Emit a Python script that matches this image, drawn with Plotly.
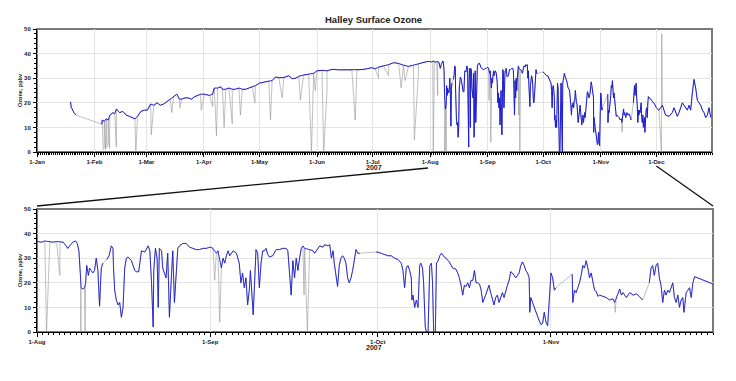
import pandas as pd
import plotly.graph_objects as go

# ---------------- data (day of year 2007, 0 = 1-Jan 00:00) ----------------
obs_day = [
    18.1, 18.5, 19.0, 19.9, 21.1, 28.0,
    34.9, 35.2, 36.3, 37.3, 38.4, 39.3, 41.0, 41.9, 42.8, 43.7, 44.5, 46.3, 48.1, 49.8,
    51.6, 52.8, 54.2, 56.0, 57.9, 59.5, 61.3, 63.0, 64.8, 66.5, 68.3, 70.1, 71.8, 73.6,
    75.4, 76.8, 78.0, 79.8, 81.5, 83.3, 85.0, 86.8, 88.2, 90.3, 93.0, 94.7, 95.6, 97.4,
    99.1, 100.0, 101.8, 103.5, 105.3, 107.0,
    108.9, 110.7, 112.5, 114.3, 116.1, 117.8, 120.0, 122.3, 125.0, 126.8, 128.6, 130.4,
    133.1, 135.8, 137.6, 139.4, 141.2, 143.8, 146.5, 149.2, 151.0, 153.7, 156.4, 159.1,
    162.7, 166.2, 169.8, 172.5, 175.2, 177.9, 180.6, 182.4, 184.2, 186.8, 189.6, 192.3,
    195.0, 197.6, 200.3, 203.0, 205.7, 208.4, 210.5,
    212.0, 212.8, 213.4, 214.3, 214.9, 215.5, 216.1, 216.7, 217.2, 217.5, 218.0, 218.4,
    218.9, 219.2, 219.5, 219.8, 219.9, 220.2, 220.5, 220.7, 220.9, 221.2, 221.4, 221.7,
    222.0, 222.3, 222.6, 222.9, 223.2, 223.5, 223.8, 224.15,
    224.5, 224.9, 225.3, 225.6, 225.7, 225.9, 226.2, 226.5, 226.8, 227.1, 227.4, 227.7,
    228.0, 228.3, 228.9, 229.5, 229.8, 230.2, 230.7, 231.3, 231.9, 232.2, 232.5, 232.8,
    232.9, 233.2, 233.5, 233.7, 233.9, 234.3, 234.5, 234.8, 235.1, 235.4, 235.7, 236.0,
    236.3, 236.6, 236.9, 237.2, 237.5, 238.1, 238.7, 239.3, 239.9, 240.5, 241.1, 241.7,
    242.3, 243.0, 243.5, 244.1, 244.4, 245.0, 245.3, 245.6, 245.9, 246.2, 246.5, 247.1,
    247.7, 248.0,
    248.2, 248.5, 248.8, 249.1, 249.4, 249.7, 250.0, 250.2, 250.7, 251.2, 251.5, 251.8,
    252.1, 252.4, 252.7, 253.0, 253.3, 253.6, 254.2, 254.8, 255.4, 256.0, 256.6, 256.9,
    257.2, 257.5, 257.8, 258.1, 258.4, 258.7, 259.0, 259.3, 259.6, 259.9, 260.8, 261.4,
    261.7, 262.0, 262.3, 262.6, 263.2, 263.5, 264.1, 264.4, 264.7, 265.0, 265.2, 265.5,
    265.8, 266.1, 266.4, 266.7, 267.0, 267.3, 267.6, 267.9, 268.2, 268.5, 268.8, 269.1,
    269.4, 269.8, 271.0,
    272.7, 273.0, 273.6, 274.2, 274.8, 275.4, 276.0, 276.6, 277.2, 277.5, 277.8, 278.1,
    278.4, 278.7, 279.0, 279.1, 279.3, 279.6, 279.9, 280.2, 280.5, 280.7, 281.0, 281.2,
    281.5, 281.7, 282.0, 282.3, 282.6, 282.8, 283.0, 283.3, 283.5, 283.8, 284.1, 284.4,
    284.7, 285.2, 285.8, 286.4, 287.0, 287.3, 287.6, 287.9, 288.2, 288.5, 288.8, 289.1,
    289.4, 289.7, 290.0, 290.3, 290.6, 290.9, 291.2, 291.5, 291.8,
    292.3, 292.9, 293.2, 293.5, 293.8, 294.1, 294.4, 294.7, 295.0, 295.3, 295.6, 295.9,
    296.2, 296.5, 296.8, 297.1, 297.4, 297.7, 298.0, 298.3, 298.6, 298.9, 299.2, 299.5,
    299.8, 300.1, 300.2, 300.4, 300.7, 301.0, 301.3, 301.6, 301.9, 302.2, 302.5, 302.8,
    303.1, 303.4, 303.7, 304.0, 304.3, 304.6, 304.9, 306.0,
    307.8, 307.9, 308.2, 308.5, 308.8, 309.1, 309.4, 309.7, 310.0, 310.3, 310.6, 310.9,
    311.2, 311.5, 311.8, 312.1, 312.4, 312.7, 313.3, 313.9, 314.5, 315.1, 315.4, 315.7,
    316.3, 316.6, 316.9, 317.5, 318.1, 318.7, 319.3, 319.8, 320.4, 321.0,
    321.6, 321.9, 322.2, 322.5, 322.8, 323.1, 323.4, 323.7, 324.0, 324.3, 324.6, 324.9,
    325.2, 325.5, 325.8, 326.1, 326.4, 326.7, 327.0, 327.3, 327.6, 327.8, 328.0, 328.2,
    328.5, 328.8, 329.1, 329.4, 329.7, 330.3, 330.9, 331.5, 332.1, 332.7, 333.0,
    334.0, 335.4, 337.2, 339.0, 340.8, 342.6, 343.5, 344.4, 345.3, 346.2, 347.1, 348.0,
    348.9, 349.8, 350.7, 351.6, 352.5, 353.4, 354.3, 355.2, 356.1, 357.0, 357.9, 358.8,
    359.7, 360.6, 361.5, 362.4, 363.3,
]
ozone_ppbv = [
    20.4, 18, 17.5, 16, 15, None,
    11.3, 13, 12.5, 13.5, 13, 15, 16, 15.5, 17.5, 16.5, 16, 16.5, 15, 14.5,
    14, 13.5, 14.5, 16.5, 17, 17, 19.5, 19, 20, 19, 19.5, 20.5, 21.5, 22.5,
    23.5, 21.5, 21.5, 22, 22, 21.5, 22.5, 23, 23.5, 23.5, 23, 23.5, 26, 26,
    26.5, 25.5, 25.5, 26, 25.5, 25.5,
    26, 25.5, 25.5, 26, 26.5, 27, 28, 28.5, 28.8, 29, 30.5, 30.2,
    30.3, 31, 29.8, 30, 30.8, 31.3, 31.5, 32, 33, 33.2, 33, 33.6,
    33.4, 33.4, 33.2, 33.3, 33.5, 33.8, 34.3, 33.8, 34.5, 35, 35.5, 36.3,
    36, 35.3, 34.8, 35.3, 35.8, 36.5, 36.8,
    36.8, 36.5, 37, 36.8, 36.5, 36.8, 36.8, 36.5, 35, 34, 35.5, 36.5,
    37, 36, 33, 23, 18, 17.5, 18, 20, 27, 23, 26, 25,
    24, 25, 30, 25, 10.5, 26, 28, None,
    29.5, 31, 35, 34, 26, 17, 13, 11, 12, 6, 10, 26,
    30, 30.5, 29, 25, 24.5, 24.5, 33, 32.5, 35, 33, 20, 2,
    25, 34, 30, 10, 34, 33, 26, 24, 22, 32, 6, 20,
    33, 12, 25, 34, 35, 36, 36, 34.5, 34, 33.5, 33.5, 34,
    34, 34.5, 34, 32, 33, 26, 30, 28, 31, 33, 31, 33,
    32, 29,
    28, 20, 24, 18, 22, 11, 17, 25, 7, 33.5, 32, 18,
    28, 33, 33, 34, 31.5, 30.5, 31, 33.5, 33.5, 34, 34, 33,
    25, 15, 29, 22, 30, 25, 30, 34, 35, 34, 33.5, 33,
    32, 33, 34, 35, 34.5, 35.5, 35, 35.5, 30, 33, 28, 24,
    18.5, 27, 30, 31, 30, 28, 22, 20, 22, 25, 30, 33.5,
    32, 32, None,
    32.5, 32.5, 32, 31.5, 31, 31, 30, 29.5, 28, 25, 18, 26,
    27, 25, 22, 13, 15, 10, 13, 10, 27, 28, 26, 20,
    2, 0, 0, 27, 28, 20, 0, 0, 28, 29, 31, 32,
    31, 30, 28.5, 26, 25.5, 24, 22, 19, 15, 19, 18.5, 20,
    18, 21, 21, 25, 20, 20, 19.5, 17, 12,
    15, 19, 16, 13, 11, 14, 15, 12, 14, 16, 14, 17,
    19, 21, 24.5, 24, 23, 22, 23, 24, 27, 28.5, 27, 25,
    24, 22, 8, 14, 12, 10, 8, 6, 4.5, 3, 3.5, 8,
    4, 2.5, 15, 24, 22, 17, 18, None,
    23.5, 12, 17, 16, 18, 20, 23, 27, 26, 29, 26, 22,
    24, 20, 17, 16.5, 14.5, 15, 14.5, 14, 13, 13.5, 12, 14,
    17.5, 15, 16, 14, 16, 15, 15.5, 14.5, 13, None,
    20, 26, 27, 23, 27, 28, 22, 19, 12, 17, 15, 17,
    16, 18, 20, 14, 12, 15, 10, 13, 14, 8, 12, 16,
    17, 18, 14, 20, 22.5, 22, 21.5, 21, 20.5, 20, 19.5,
    18, 17, 19, 15, 14.5, 16, 18, 16, 14.5, 16, 18, 20,
    19, 18, 17, 19, 17, 24, 29.5, 26, 21, 20, 19, 17,
    16, 14, 15, 18, 14,
]

# short instrument drop-outs drawn as grey spikes
spike_day = [35.7, 36.3, 37.0, 37.7, 38.4, 39.1, 42.8, 53.3, 61.6, 72.7, 77.1, 88.6,
             94.7, 96.8, 100.9, 105.3, 109.7, 117.5, 125.9, 132.2, 142.0, 148.0, 150.1,
             154.6, 156.4, 171.6, 184.2, 189.6, 196.4, 198.5, 203.5, 205.7,
             213.7, 216.1, 219.85, 220.6, 243.8, 244.7, 259.8, 260.4, 315.5,
             336.7, 336.9]
spike_ppbv = [1, 1.5, 1, 2, 3, 1.5, 2, 0, 7, 16, 18, 17,
              18.5, 6.5, 10, 11.5, 15, 20, 13, 22, 21, 0, 25,
              0, 25, 13, 30, 31, 26, 29, 5, 32,
              0, 23, 0, 0, 21, 4, 15, 0, 8,
              0, 48]

year_label = "2007"
title_text = "Halley Surface Ozone"
y_title = "Ozone, ppbv"

# ---------------- build ----------------
t0 = pd.Timestamp("2007-01-01")
def to_time(days):
    return [t0 + pd.Timedelta(days=d) for d in days]

blue_x = to_time(obs_day)
valid = [(d, v) for d, v in zip(obs_day, ozone_ppbv) if v is not None]
merged = sorted(valid + list(zip(spike_day, spike_ppbv)))
gray_x = to_time([d for d, _ in merged])
gray_y = [v for _, v in merged]

# the page body has an 8px margin, so the figure is drawn inside it
OFF = 8
W, H = 736 - 2 * OFF, 381 - 2 * OFF
px = lambda x: (x - OFF) / W
py = lambda y: 1 - (y - OFF) / H

top_dom_x = [px(37), px(712)]
top_dom_y = [py(152), py(29)]
bot_dom_x = [px(37), px(713)]
bot_dom_y = [py(332), py(209)]

top_range = ["2007-01-01", "2007-12-31"]
bot_range = ["2007-08-01", "2007-11-30"]

blue = "rgb(28,28,214)"
gray = "rgb(150,150,150)"

fig = go.Figure()
for xa, ya, wb in (("x", "y", 1.0), ("x2", "y2", 0.9)):
    fig.add_trace(go.Scatter(x=gray_x, y=gray_y, mode="lines", xaxis=xa, yaxis=ya,
                             line=dict(color=gray, width=0.6), hoverinfo="skip",
                             showlegend=False))
    fig.add_trace(go.Scatter(x=blue_x, y=ozone_ppbv, mode="lines", xaxis=xa, yaxis=ya,
                             connectgaps=False, line=dict(color=blue, width=wb),
                             showlegend=False))

tickfont = dict(family="Arial, Liberation Sans, sans-serif", size=6, color="#222",
                weight="bold")

def xax(dom, rng, anchor):
    return dict(domain=dom, anchor=anchor, type="date", range=rng, dtick="M1",
                tick0="2007-01-01", tickformat="%-d-%b", ticks="outside", ticklen=4,
                tickcolor="#000", tickwidth=1, showline=True, linecolor="#000",
                linewidth=1, showgrid=True, gridcolor="#e4e4e4", gridwidth=1,
                zeroline=False, tickfont=tickfont, ticklabelstandoff=0,
                automargin=False,
                minor=dict(dtick=86400000, ticks="outside", ticklen=2,
                           tickcolor="#000", showgrid=False))

def yax(dom, anchor):
    return dict(domain=dom, anchor=anchor, range=[0, 50], dtick=10, ticks="outside",
                ticklen=3, tickcolor="#000", showline=True, linecolor="#000",
                linewidth=1, showgrid=True, gridcolor="#e4e4e4", gridwidth=1,
                zeroline=False, tickfont=tickfont, automargin=False,
                ticklabelstandoff=1,
                minor=dict(dtick=2, ticks="outside", ticklen=2, tickcolor="#000",
                           showgrid=False))

fig.update_layout(
    width=W, height=H, autosize=False,
    margin=dict(l=0, r=0, t=0, b=0, pad=0, autoexpand=False),
    paper_bgcolor="white", plot_bgcolor="white", showlegend=False,
    xaxis=xax(top_dom_x, top_range, "y"), yaxis=yax(top_dom_y, "x"),
    xaxis2=xax(bot_dom_x, bot_range, "y2"), yaxis2=yax(bot_dom_y, "x2"),
)

# frames
for xr, yr in (("x", "y"), ("x2", "y2")):
    fig.add_shape(type="rect", xref=f"{xr} domain", yref=f"{yr} domain",
                  x0=0, x1=1, y0=0, y1=1, line=dict(color="#7a7a7a", width=2),
                  layer="below")

# zoom connector lines (from top axis positions to bottom panel corners)
top_start = pd.Timestamp(top_range[0]); top_end = pd.Timestamp(top_range[1])
def top_paper_x(date):
    f = (pd.Timestamp(date) - top_start) / (top_end - top_start)
    return top_dom_x[0] + f * (top_dom_x[1] - top_dom_x[0])

fig.add_shape(type="line", xref="paper", yref="paper",
              x0=top_paper_x(bot_range[0]) - 0.003, y0=py(168),
              x1=bot_dom_x[0], y1=py(206), line=dict(color="#111", width=1.3))
fig.add_shape(type="line", xref="paper", yref="paper",
              x0=top_paper_x("2007-12-01"), y0=py(166),
              x1=bot_dom_x[1], y1=py(206), line=dict(color="#111", width=1.3))

ann_font = dict(family="Arial, Liberation Sans, sans-serif", color="#222")
def label(text, x, y, size, angle=0):
    fig.add_annotation(text=text, xref="paper", yref="paper", x=px(x), y=py(y),
                       xanchor="center", yanchor="middle", showarrow=False,
                       textangle=angle, font=dict(size=size, weight="bold", **ann_font))

label(title_text, 373, 20, 9.5)
label(year_label, 374, 167, 7)
label(year_label, 374, 347, 7)
for yc in (90, 270):
    label(y_title, 20, yc, 5.5, angle=-90)

fig.write_html("out.html")
